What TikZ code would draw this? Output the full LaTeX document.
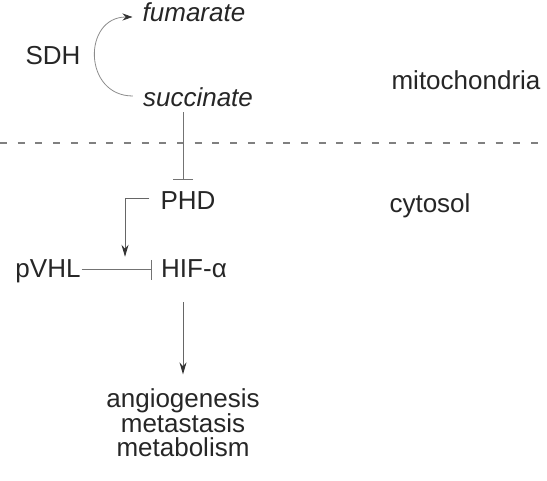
\documentclass[tikz,border=0pt]{standalone}
\usepackage{fontspec}
\setmainfont{Liberation Sans}
\usepackage{tikz}
\usetikzlibrary{arrows, arrows.meta}
\tikzstyle{term}     = [inner sep=0pt, text height=18pt, text depth=5pt, font=\fontsize{26}{23.5}\selectfont, text=black!85]
\tikzstyle{outcome}  = [inner sep=0pt, align=center, font=\fontsize{26}{23.5}\selectfont, text=black!85]
\tikzstyle{arrow}    = [line width=1pt, draw=black!60, -{Stealth[length=12pt, width=7pt, black!80]}]
\tikzstyle{inhibit}  = [line width=1pt, draw=black!55, -{Bar[width=20pt, line width=1pt]}]
\tikzstyle{cycle}    = [line width=0.8pt, draw=black!45, -{Stealth[length=10pt, width=7pt, black!80]}]
\tikzstyle{membrane} = [line width=1.2pt, draw=black!50, dash pattern=on 7pt off 10.7pt]

\begin{document}
\begin{tikzpicture}[x=1pt, y=1pt, node distance=64pt]
      \useasboundingbox (0,0) rectangle (547,480);
      % Nodes
      %% Mitochondria
      \node (fumarate)     [term] at (194,464.5)                                   {\textit{fumarate}};
      \node (SDH)          [term, left of=fumarate, xshift=-77pt, yshift=-43pt]    {SDH};
      \node (succinate)    [term, below of=fumarate, xshift=4pt, yshift=-21pt]     {\textit{succinate}};
      \node (mitochondria) [term, right of=succinate, xshift=204pt, yshift=17pt]   {mitochondria};
      %% Cytosol
      \node (PHD)          [term, below of=succinate, xshift=-10pt, yshift=-39pt]  {PHD};
      \node (cytosol)      [term, right of=PHD, xshift=178pt, yshift=-3pt]         {cytosol};
      \node (HIF_alpha)    [term, below of=PHD, xshift=6pt, yshift=-4pt]           {HIF-α};
      \node (pVHL)         [term, left of=HIF_alpha, xshift=-82pt]                 {pVHL};
      \node (outcomes)     [outcome, below of=HIF_alpha, xshift=-11pt, yshift=-87pt] {angiogenesis\\metastasis\\metabolism};

      % Membrane
      \coordinate (membrane_left)  at (0,337);
      \coordinate (membrane_right) at (547,337);
      \draw [membrane] (membrane_left) -- (membrane_right);

      % % Arrows
      \draw [cycle]   ([xshift=-10pt, yshift=4.5pt]succinate.west) .. controls +(-50,0) and +(-50,0) .. ([xshift=-10pt, yshift=-1.5pt]fumarate.west);
      \draw [inhibit, shorten >=12pt] ([xshift=-15pt]succinate.south) -- ([xshift=-5pt]PHD.north);
      \draw [arrow]   ([xshift=-11pt, yshift=5pt]PHD.west) -| ([xshift=-36pt, yshift=3pt]HIF_alpha.north west);
      \draw [inhibit, shorten <=1pt, shorten >=9pt] ([yshift=1.5pt]pVHL.east) -- ([yshift=1.5pt]HIF_alpha.west);
      \draw [arrow]   ([xshift=-11pt, yshift=-19pt]HIF_alpha.south) -- ([yshift=14pt]outcomes.north);
\end{tikzpicture}
\end{document}
